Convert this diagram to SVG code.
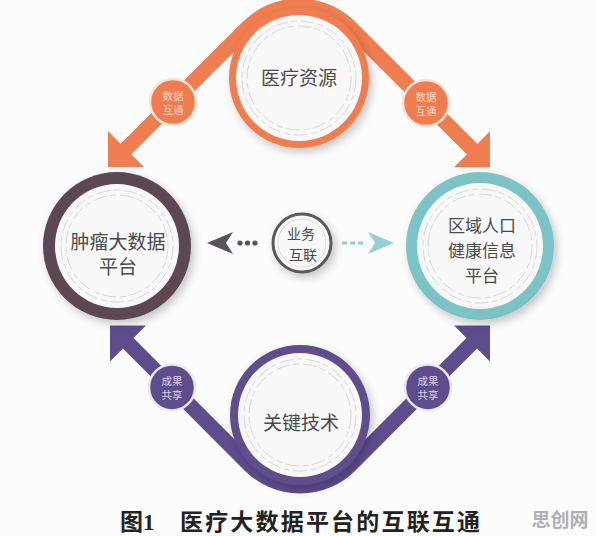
<svg xmlns="http://www.w3.org/2000/svg" width="596" height="536" viewBox="0 0 596 536">
<defs>
<filter id="sh" x="-30%" y="-30%" width="160%" height="160%">
<feDropShadow dx="3" dy="4" stdDeviation="4" flood-color="#000" flood-opacity="0.22"/>
</filter>
<style>
.t{font-family:"Noto Sans CJK SC","Liberation Serif",sans-serif;fill:#4a4a4a;text-anchor:middle;font-size:19px}
.s{font-family:"Noto Sans CJK SC",sans-serif;text-anchor:middle;font-size:10.5px}
.deco{fill:none;stroke:#d8d8d8;stroke-width:1;stroke-dasharray:14 3 6 4}
.band-o{fill:none;stroke:#ef7d50;stroke-width:15}
.band-p{fill:none;stroke:#5e4d8c;stroke-width:15}
</style>
</defs>
<rect width="596" height="536" fill="#fcfcfc"/>

<g id="connectors">
<path class="band-o" d="M124 151 L248.1 27.1 A72 72 0 0 1 349.9 27.1 L474 151"/>
<polygon points="108,167 108,131 144,167" fill="#ef7d50"/>
<polygon points="490,167.2 490,131.2 454,167.2" fill="#ef7d50"/>
<path class="band-p" d="M126 341 L249.8 465.2 A71 71 0 0 0 350.2 465.2 L474 341"/>
<polygon points="110,325.4 146,325.4 110,361.4" fill="#5e4d8c"/>
<polygon points="490,325.4 454,325.4 490,361.4" fill="#5e4d8c"/>
<g id="label-data-left">
<circle cx="173" cy="102" r="23" fill="#ef7d50" stroke="#fbe3d8" stroke-width="2.5"/>
<text class="s" x="173" y="100" fill="#fbd9c9">数据</text>
<text class="s" x="173" y="114" fill="#fbd9c9">互通</text>
</g>
<g id="label-data-right">
<circle cx="426" cy="103" r="23" fill="#ef7d50" stroke="#fbe3d8" stroke-width="2.5"/>
<text class="s" x="426" y="101" fill="#fbd9c9">数据</text>
<text class="s" x="426" y="115" fill="#fbd9c9">互通</text>
</g>
<g id="label-share-left">
<circle cx="172" cy="387.4" r="23" fill="#5e4d8c" stroke="#ece8f4" stroke-width="2.5"/>
<text class="s" x="172" y="385" fill="#d9d3ea">成果</text>
<text class="s" x="172" y="399" fill="#d9d3ea">共享</text>
</g>
<g id="label-share-right">
<circle cx="428" cy="387.4" r="23" fill="#5e4d8c" stroke="#ece8f4" stroke-width="2.5"/>
<text class="s" x="428" y="385" fill="#d9d3ea">成果</text>
<text class="s" x="428" y="399" fill="#d9d3ea">共享</text>
</g>
<g fill="#58525c">
<circle cx="240" cy="243" r="2.6"/>
<circle cx="247.5" cy="243" r="2.6"/>
<circle cx="255" cy="243" r="2.6"/>
<polygon points="207,243 233,232 226,243 233,254"/>
</g>
<g fill="#92d0d6">
<rect x="342" y="241.5" width="5" height="3"/>
<rect x="350" y="241.5" width="5" height="3"/>
<rect x="358" y="241.5" width="5" height="3"/>
<polygon points="394,243 368,232 375,243 368,254"/>
</g>
</g>

<g id="node-top">
<circle cx="299" cy="78" r="70" fill="#ef7d50" filter="url(#sh)"/>
<circle cx="299" cy="78" r="63" fill="#f8f8f8"/>
<circle cx="299" cy="78" r="57" class="deco"/>
<circle cx="299" cy="78" r="52" class="deco"/>
<text class="t" x="299" y="85">医疗资源</text>
</g>

<g id="node-left">
<circle cx="117" cy="246" r="74" fill="#5b4753" filter="url(#sh)"/>
<circle cx="117" cy="246" r="62" fill="#f8f8f8"/>
<circle cx="117" cy="246" r="56" class="deco"/>
<circle cx="117" cy="246" r="51" class="deco"/>
<text class="t" x="118" y="249">肿瘤大数据</text>
<text class="t" x="118" y="274">平台</text>
</g>

<g id="node-right">
<circle cx="480" cy="246" r="74" fill="#7cc3c6" filter="url(#sh)"/>
<circle cx="480" cy="246" r="63" fill="#f8f8f8"/>
<circle cx="480" cy="246" r="57" class="deco"/>
<circle cx="480" cy="246" r="52" class="deco"/>
<text class="t" x="482" y="232" style="font-size:17px">区域人口</text>
<text class="t" x="482" y="257" style="font-size:17px">健康信息</text>
<text class="t" x="482" y="282" style="font-size:17px">平台</text>
</g>

<g id="node-bottom">
<circle cx="300" cy="415" r="70" fill="#5e4d8c" filter="url(#sh)"/>
<circle cx="300" cy="415" r="62" fill="#f8f8f8"/>
<circle cx="300" cy="415" r="56" class="deco"/>
<circle cx="300" cy="415" r="51" class="deco"/>
<text class="t" x="301" y="430">关键技术</text>
</g>

<g id="node-center">
<circle cx="302" cy="243" r="29" fill="#f8f8f8" stroke="#5a5a5a" stroke-width="3" filter="url(#sh)"/>
<circle cx="302" cy="243" r="24" fill="none" stroke="#dcdcdc" stroke-width="1"/>
<text class="t" x="301" y="239" style="font-size:14px">业务</text>
<text class="t" x="303" y="260" style="font-size:14px">互联</text>
</g>

<g id="caption">
<text x="120" y="530" font-family="Liberation Serif,'Noto Sans CJK SC',serif" font-size="23" font-weight="bold" fill="#222">图1</text>
<text x="180" y="530" font-family="'Noto Sans CJK SC',sans-serif" font-size="23" font-weight="bold" fill="#222" textLength="300" lengthAdjust="spacing">医疗大数据平台的互联互通</text>
<text x="560" y="527" font-family="'Noto Sans CJK SC',sans-serif" font-size="19" font-weight="bold" fill="#b0b0b0" text-anchor="middle">思创网</text>
</g>
</svg>
